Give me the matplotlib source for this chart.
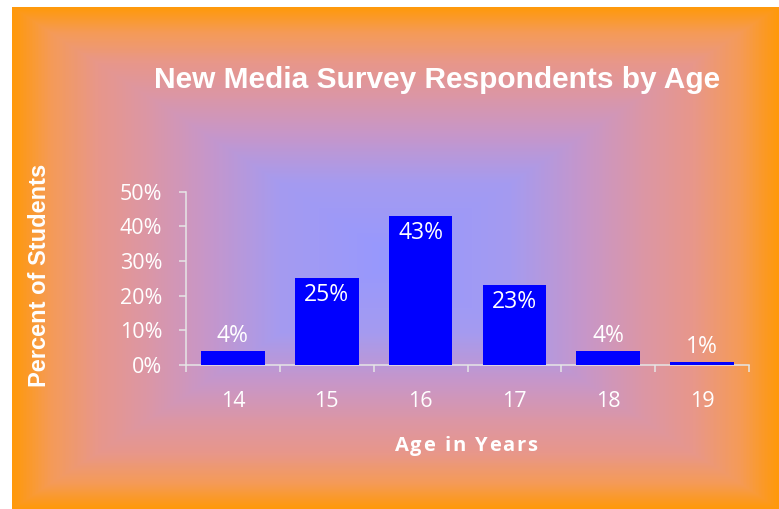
import matplotlib.pyplot as plt
import numpy as np
from matplotlib.colors import LinearSegmentedColormap

ages = ['14', '15', '16', '17', '18', '19']
percents = [4, 25, 43, 23, 4, 1]
y_ticks = [0, 10, 20, 30, 40, 50]

W, H = 779, 509
fig = plt.figure(figsize=(W / 100, H / 100), dpi=100)

# background: rectangular "from centre" gradient, blue in the middle, orange at the edges
bg = fig.add_axes([0, 0, 1, 1], zorder=-1)
bg.set_xlim(0, W)
bg.set_ylim(H, 0)
bg.axis('off')
x0, x1, y0, y1 = 12, W, 7, H
xs = np.linspace(-1, 1, x1 - x0)
ys = np.linspace(-1, 1, y1 - y0)
gx, gy = np.meshgrid(xs, ys)
t = np.maximum(np.abs(gx), np.abs(gy))
stops = [
    (0.00, (150, 152, 255)),
    (0.30, (165, 155, 240)),
    (0.50, (200, 150, 200)),
    (0.65, (220, 150, 165)),
    (0.78, (232, 151, 138)),
    (0.90, (245, 155, 88)),
    (1.00, (255, 153, 10)),
]
cmap = LinearSegmentedColormap.from_list(
    'bg', [(p, tuple(c / 255 for c in rgb)) for p, rgb in stops])
bg.imshow(t, cmap=cmap, vmin=0, vmax=1, extent=(x0, x1, y1, y0),
          aspect='auto', interpolation='bilinear')


def spaced_text(x, y, s, gap, **kw):
    # draw a string letter by letter with extra tracking, centred on x (pixels)
    r = fig.canvas.get_renderer()
    widths = []
    for ch in s:
        tmp = fig.text(0, 0, ch.replace(' ', '\u00a0'), **kw)
        widths.append(tmp.get_window_extent(r).width if ch != ' ' else None)
        tmp.remove()
    sp = fig.text(0, 0, 'a\u00a0a', **kw)
    aa = fig.text(0, 0, 'aa', **kw)
    space_w = sp.get_window_extent(r).width - aa.get_window_extent(r).width
    sp.remove()
    aa.remove()
    widths = [space_w if w is None else w for w in widths]
    total = sum(widths) + gap * (len(s) - 1)
    cx = x - total / 2
    for ch, w in zip(s, widths):
        if ch != ' ':
            fig.text(cx / W, 1 - y / H, ch, ha='left', va='baseline', **kw)
        cx += w + gap


# plot area in pixel terms
left, right, bottom, top = 186, 749, 365, 191.7
ax = fig.add_axes([left / W, 1 - bottom / H, (right - left) / W, (bottom - top) / H])
ax.patch.set_alpha(0)

x = np.arange(len(ages))
ax.bar(x, percents, width=0.68, color='#0000FF', zorder=3)

for xi, v in zip(x, percents):
    inside = v >= 10
    ax.annotate(f'{v}%', (xi, v), xytext=(0, -3.5 if inside else 2), textcoords='offset points',
                ha='center', va='top' if inside else 'bottom', color='white',
                fontsize=16.5, family='Open Sans', zorder=4)

ax.set_xlim(-0.5, len(ages) - 0.5)
ax.set_ylim(0, 50)

axis_col = '#E6E6E6'
for s in ['top', 'right']:
    ax.spines[s].set_visible(False)
for s in ['left', 'bottom']:
    ax.spines[s].set_color(axis_col)
    ax.spines[s].set_linewidth(1.1)

ax.set_yticks(y_ticks)
ax.set_yticklabels([f'{v}%' for v in y_ticks])
ax.set_xticks(x)
ax.set_xticklabels(ages)
ax.set_xticks(np.arange(-0.5, len(ages)), minor=True)
ax.tick_params(axis='y', colors=axis_col, length=5, width=1.1, pad=12)
ax.tick_params(axis='x', which='major', length=0, pad=18.5)
ax.tick_params(axis='x', which='minor', colors=axis_col, length=5, width=1.1)
for lab in ax.get_yticklabels() + ax.get_xticklabels():
    lab.set_color('white')
    lab.set_fontsize(15.5)
    lab.set_family('Open Sans')

fig.text(437.5 / W, 1 - 88 / H, 'New Media Survey Respondents by Age', ha='center', va='baseline',
         color='white', fontsize=21.5, fontweight='bold', family='Liberation Sans')
fig.text(40 / W, 1 - 275 / H, 'Percent of Students', ha='center', va='center', rotation=90,
         color='white', fontsize=17, fontweight='bold', family='Liberation Sans')
spaced_text(466, 451, 'Age in Years', 1.8, color='white', fontsize=14.5,
            fontweight='bold', family='Open Sans')

fig.savefig('out.png', dpi=100)
